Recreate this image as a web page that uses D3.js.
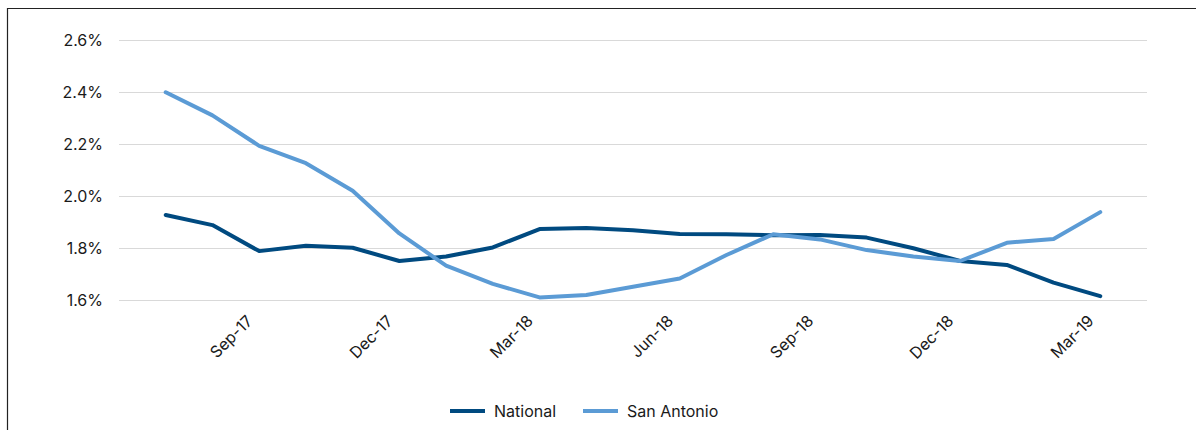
<!DOCTYPE html>
<html>
<head>
<meta charset="utf-8">
<script src="https://cdn.jsdelivr.net/npm/d3@7"></script>
<style>
  html, body { margin: 0; padding: 0; background: #fff; }
  svg { display: block; }
  text { font-family: Inter, "Open Sans", sans-serif; fill: #1a1a1a; }
</style>
</head>
<body>
<svg id="chart" width="1196" height="430"></svg>
<script>
const months = ["Jul-17","Aug-17","Sep-17","Oct-17","Nov-17","Dec-17","Jan-18","Feb-18","Mar-18","Apr-18","May-18","Jun-18","Jul-18","Aug-18","Sep-18","Oct-18","Nov-18","Dec-18","Jan-19","Feb-19","Mar-19"];
const tickLabels = ["Sep-17","Dec-17","Mar-18","Jun-18","Sep-18","Dec-18","Mar-19"];
const yTicks = [1.6, 1.8, 2.0, 2.2, 2.4, 2.6];
const nationalValues = [1.927, 1.888, 1.788, 1.809, 1.801, 1.750, 1.767, 1.802, 1.873, 1.877, 1.868, 1.854, 1.853, 1.849, 1.850, 1.840, 1.799, 1.750, 1.735, 1.667, 1.615];
const sanAntonioValues = [2.399, 2.310, 2.193, 2.126, 2.020, 1.856, 1.732, 1.662, 1.610, 1.619, 1.651, 1.683, 1.773, 1.853, 1.833, 1.792, 1.767, 1.750, 1.820, 1.835, 1.938];
const seriesNames = ["National", "San Antonio"];
const seriesColors = ["#004a80", "#5b9bd5"];

const svg = d3.select("#chart");
const mLeft = 119, mRight = 1147, mTop = 40, mBottom = 300;
const FONT = "Inter, 'Open Sans', sans-serif";

// frame
svg.append("path").attr("d", "M7.5,430 V8.5 H1196").attr("fill", "none").attr("stroke", "#222").attr("stroke-width", 1.2);

const x = d3.scalePoint().domain(months).range([mLeft, mRight]).padding(1);
const y = d3.scaleLinear().domain([1.6, 2.6]).range([mBottom, mTop]);

// gridlines
svg.append("g").selectAll("line").data(yTicks).join("line")
  .attr("x1", mLeft).attr("x2", mRight)
  .attr("y1", d => Math.round(y(d)) + 0.5).attr("y2", d => Math.round(y(d)) + 0.5)
  .attr("stroke", "#d9d9d9").attr("stroke-width", 1);

// y axis
const yAxis = d3.axisLeft(y).tickValues(yTicks).tickSize(0).tickPadding(16).tickFormat(d => d3.format(".1f")(d) + "%");
const gy = svg.append("g").attr("transform", `translate(${mLeft},0)`).call(yAxis);
gy.select(".domain").remove();
gy.selectAll("text").style("font-size", "16px").attr("fill", "#1a1a1a").style("font-family", FONT);

// x axis
const xAxis = d3.axisBottom(x).tickValues(tickLabels).tickSize(0).tickPadding(0);
const gx = svg.append("g").attr("transform", `translate(0,${mBottom})`).call(xAxis);
gx.select(".domain").remove();
gx.selectAll("text")
  .style("font-size", "16px").style("font-family", FONT).attr("fill", "#1a1a1a")
  .attr("text-anchor", "end").attr("dy", null).attr("y", 0)
  .attr("transform", "translate(-6,22) rotate(-45)");

// lines
const line = d3.line().x((d, i) => x(months[i])).y(d => y(d));
[nationalValues, sanAntonioValues].forEach((vals, k) => {
  svg.append("path").datum(vals)
    .attr("d", line).attr("fill", "none")
    .attr("stroke", seriesColors[k]).attr("stroke-width", 4)
    .attr("stroke-linejoin", "round").attr("stroke-linecap", "round");
});

// legend
const legendX = [450, 583];
const lg = svg.append("g");
seriesNames.forEach((name, k) => {
  lg.append("line").attr("x1", legendX[k]).attr("x2", legendX[k] + 35)
    .attr("y1", 411).attr("y2", 411).attr("stroke", seriesColors[k]).attr("stroke-width", 4);
  lg.append("text").attr("x", legendX[k] + 44).attr("y", 417)
    .style("font-size", "16px").style("font-family", FONT).text(name);
});
</script>
</body>
</html>
